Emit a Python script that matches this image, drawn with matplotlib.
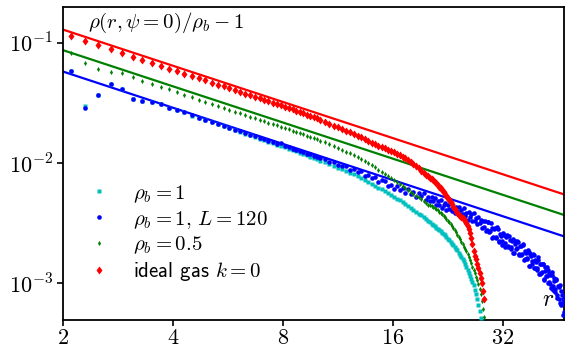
import matplotlib
matplotlib.use("Agg")
import matplotlib.pyplot as plt
from matplotlib.ticker import FixedLocator, FixedFormatter, NullLocator

# ---------------- data ----------------
r_a = [2.1, 2.3, 2.5, 2.7, 2.9, 3.1, 3.3, 3.5, 3.7, 3.9, 4.1, 4.3, 4.5, 4.7, 4.9,
       5.1, 5.3, 5.5, 5.7, 5.9, 6.1, 6.3, 6.5, 6.7, 6.9, 7.1, 7.3, 7.5, 7.7, 7.9,
       8.1, 8.3, 8.5, 8.7, 8.9, 9.1, 9.3, 9.5, 9.7, 9.9, 10.1]
r_b = [10.4, 10.7, 11.0, 11.3, 11.6, 11.9, 12.2, 12.5, 12.8, 13.1, 13.4, 13.7,
       14.0, 14.3, 14.6, 14.9, 15.2, 15.5, 15.8, 16.1, 16.4, 16.7, 17.0, 17.3,
       17.6, 17.9, 18.2, 18.5, 18.8, 19.1, 19.4, 19.7, 20.0]
r_c = [20.2, 20.4, 20.6, 20.8, 21.0, 21.2, 21.4, 21.6, 21.8, 22.0, 22.2, 22.4,
       22.6, 22.8, 23.0, 23.2, 23.4, 23.6, 23.8, 24.0, 24.2, 24.4, 24.6, 24.8,
       25.0, 25.2, 25.4, 25.6, 25.8, 26.0, 26.2, 26.4, 26.6, 26.8, 27.0, 27.2,
       27.4, 27.6, 27.8, 28.0, 28.2, 28.4]
r_tail = [28.6, 28.9, 29.2, 29.5, 29.8, 30.1, 30.4, 30.7, 31.0, 31.3, 31.6, 31.9,
          32.2, 32.5, 32.8, 33.1, 33.4, 33.7, 34.0, 34.3, 34.6, 34.9, 35.2, 35.5,
          35.8, 36.1, 36.4, 36.7, 37.0, 37.3, 37.6, 37.9, 38.2, 38.5, 38.8, 39.1,
          39.4, 39.7, 40.0, 40.3, 40.6, 40.9, 41.2, 41.5, 41.8, 42.1, 42.4, 42.7,
          43.0, 43.3, 43.6, 43.9, 44.2, 44.5, 44.8, 45.1, 45.4, 45.7, 46.0, 46.3,
          46.6, 46.9]
r_tail2 = [28.75, 29.05, 29.35, 29.65, 29.95, 30.25, 30.55, 30.85, 31.15, 31.45,
           31.75, 32.05, 32.35, 32.65, 32.95, 33.25, 33.55, 33.85, 34.15, 34.45,
           34.75, 35.05, 35.35, 35.65, 35.95, 36.25, 36.55, 36.85, 37.15, 37.45,
           37.75, 38.05, 38.35, 38.65, 38.95, 39.25, 39.55, 39.85, 40.15, 40.45,
           40.75, 41.05, 41.35, 41.65, 41.95, 42.25, 42.55, 42.85, 43.15, 43.45,
           43.75, 44.05, 44.35, 44.65, 44.95, 45.25, 45.55, 45.85, 46.15, 46.45,
           46.75]
r_pts = r_a + r_b + r_c

rho1 = [0.0588, 0.0298, 0.0369, 0.0455, 0.0411, 0.0341, 0.0330, 0.0324, 0.0310, 0.0289,
        0.0277, 0.0266, 0.0248, 0.0237, 0.0228, 0.0219, 0.0210, 0.0203, 0.0196, 0.0189,
        0.0182, 0.0176, 0.0171, 0.0165, 0.0160, 0.0155, 0.0151, 0.0146, 0.0142, 0.0138,
        0.0135, 0.0131, 0.0128, 0.0125, 0.0122, 0.0119, 0.0116, 0.0113, 0.0110, 0.0108,
        0.0105,
        0.01016, 0.00983, 0.00950, 0.00919, 0.00889, 0.00861, 0.00833, 0.00807, 0.00779,
        0.00750, 0.00723, 0.00697, 0.00672, 0.00649, 0.00626, 0.00604, 0.00583, 0.00563,
        0.00543, 0.00524, 0.00507, 0.00491, 0.00476, 0.00458, 0.00442, 0.00426, 0.00410,
        0.00395, 0.00380, 0.00367, 0.00354, 0.00341, 0.00329,
        0.00321, 0.00314, 0.00306, 0.00299, 0.00291, 0.00284, 0.00277, 0.00271, 0.00264,
        0.00257, 0.00250, 0.00242, 0.00235, 0.00228, 0.00221, 0.00214, 0.00207, 0.00201,
        0.00194, 0.00188, 0.00180, 0.00173, 0.00166, 0.00159, 0.00152, 0.00145, 0.00137,
        0.00130, 0.00123, 0.00115, 0.00109, 0.00103, 0.000964, 0.000887, 0.000813,
        0.000739, 0.000666, 0.000586, 0.000519]

rho1_L120 = [0.0588, 0.0290, 0.0369, 0.0455, 0.0411, 0.0341, 0.0330, 0.0324, 0.0310, 0.0289,
             0.0277, 0.0266, 0.0249, 0.0238, 0.0229, 0.0220, 0.0211, 0.0204, 0.0196, 0.0190,
             0.0184, 0.0178, 0.0172, 0.0167, 0.0162, 0.0158, 0.0153, 0.0149, 0.0145, 0.0146,
             0.0140, 0.0135, 0.0132, 0.0129, 0.0126, 0.0123, 0.0120, 0.0118, 0.0115, 0.0113,
             0.0110,
             0.01077, 0.01024, 0.01024, 0.00956, 0.00951, 0.00946, 0.00884, 0.00887, 0.00846,
             0.00856, 0.00784, 0.00801, 0.00755, 0.00764, 0.00693, 0.00717, 0.00712, 0.00649,
             0.00661, 0.00606, 0.00650, 0.00601, 0.00619, 0.00567, 0.00610, 0.00554, 0.00573,
             0.00521, 0.00569, 0.00533, 0.00562, 0.00496, 0.00523,
             0.00486, 0.00523, 0.00481, 0.00517, 0.00452, 0.00483, 0.00447, 0.00491, 0.00421,
             0.00450, 0.00464, 0.00404, 0.00448, 0.00419, 0.00462, 0.00400, 0.00421, 0.00381,
             0.00435, 0.00403, 0.00434, 0.00374, 0.00406, 0.00374, 0.00425, 0.00362, 0.00385,
             0.00339, 0.00394, 0.00357, 0.00378, 0.00330, 0.00383, 0.00332, 0.00349, 0.00310,
             0.00359, 0.00317, 0.00335, 0.00286, 0.00331, 0.00292]
rho1_L120_tail = [0.00327, 0.00275, 0.00324, 0.00274, 0.00289, 0.00242, 0.00288, 0.00243,
                  0.00285, 0.00225, 0.00248, 0.00208, 0.00253, 0.00218, 0.00252, 0.00199,
                  0.00229, 0.00199, 0.00232, 0.00179, 0.00211, 0.00195, 0.00221, 0.00175,
                  0.00203, 0.00177, 0.00209, 0.00159, 0.00179, 0.00159, 0.00183, 0.00139,
                  0.00169, 0.00152, 0.00172, 0.00134, 0.00151, 0.00133, 0.00156, 0.00120,
                  0.00144, 0.00124, 0.00146, 0.00109, 0.00127, 0.00115, 0.00130, 0.00103,
                  0.00118, 0.000918, 0.00118, 0.000949, 0.00104, 0.000845, 0.00107, 0.000806,
                  0.000929, 0.000692, 0.000870, 0.000689, 0.000741, 0.000572]
rho1_L120_tail2 = [0.00270, 0.00322, 0.00269, 0.00315, 0.00239, 0.00285, 0.00238, 0.00293,
                   0.00220, 0.00255, 0.00227, 0.00262, 0.00200, 0.00243, 0.00206, 0.00249,
                   0.00193, 0.00224, 0.00179, 0.00226, 0.00194, 0.00225, 0.00172, 0.00205,
                   0.00171, 0.00212, 0.00157, 0.00184, 0.00163, 0.00189, 0.00139, 0.00175,
                   0.00144, 0.00176, 0.00133, 0.00156, 0.00130, 0.00164, 0.00119, 0.00146,
                   0.00123, 0.00144, 0.00107, 0.00136, 0.00116, 0.00137, 0.00101, 0.00121,
                   0.000990, 0.00125, 0.000884, 0.00111, 0.000897, 0.00108, 0.000757,
                   0.000957, 0.000741, 0.000970, 0.000662, 0.000801, 0.000549]

rho05 = [0.0821, 0.0686, 0.0607, 0.0577, 0.0559, 0.0523, 0.0482, 0.0453, 0.0433, 0.0414,
         0.0393, 0.0368, 0.0352, 0.0337, 0.0323, 0.0310, 0.0299, 0.0288, 0.0278, 0.0268,
         0.0259, 0.0251, 0.0243, 0.0236, 0.0229, 0.0223, 0.0217, 0.0211, 0.0206, 0.0200,
         0.0196, 0.0191, 0.0186, 0.0182, 0.01779, 0.01731, 0.01689, 0.01651, 0.01613,
         0.01577, 0.01540,
         0.01489, 0.01438, 0.01384, 0.01337, 0.01292, 0.01247, 0.01204, 0.01162, 0.01123,
         0.01085, 0.01041, 0.00999, 0.00959, 0.00921, 0.00884, 0.00849, 0.00815, 0.00783,
         0.00752, 0.00722, 0.00695, 0.00669, 0.00644, 0.00621, 0.00598, 0.00577, 0.00556,
         0.00537, 0.00518, 0.00501, 0.00484, 0.00468, 0.00452,
         0.00444, 0.00437, 0.00429, 0.00422, 0.00414, 0.00405, 0.00395, 0.00385, 0.00374,
         0.00364, 0.00353, 0.00342, 0.00331, 0.00321, 0.00310, 0.00299, 0.00287, 0.00276,
         0.00265, 0.00254, 0.00243, 0.00232, 0.00222, 0.00212, 0.00202, 0.00193, 0.00184,
         0.00175, 0.00166, 0.00157, 0.00147, 0.00136, 0.00128, 0.00121, 0.00113, 0.00106,
         0.000978, 0.000895, 0.000813, 0.000715, 0.000617, 0.000521]

ideal_gas = [0.1137, 0.1038, 0.0955, 0.0884, 0.0823, 0.0770, 0.0723, 0.0682, 0.0645, 0.0612,
             0.0582, 0.0555, 0.0530, 0.0508, 0.0487, 0.0468, 0.0450, 0.0434, 0.0419, 0.0405,
             0.0391, 0.0379, 0.0367, 0.0356, 0.0346, 0.0336, 0.0327, 0.0318, 0.0310, 0.0302,
             0.02944, 0.02869, 0.02798, 0.02730, 0.02665, 0.02595, 0.02530, 0.02469, 0.02410,
             0.02353, 0.02299,
             0.02215, 0.02134, 0.02052, 0.01984, 0.01920, 0.01858, 0.01804, 0.01746, 0.01689,
             0.01633, 0.01579, 0.01525, 0.01474, 0.01436, 0.01398, 0.01363, 0.01329, 0.01297,
             0.01266, 0.01231, 0.01197, 0.01163, 0.01131, 0.01096, 0.01058, 0.01026, 0.00985,
             0.00943, 0.00903, 0.00865, 0.00834, 0.00803, 0.00774,
             0.00755, 0.00736, 0.00718, 0.00700, 0.00682, 0.00660, 0.00638, 0.00616, 0.00595,
             0.00575, 0.00553, 0.00532, 0.00511, 0.00491, 0.00471, 0.00453, 0.00435, 0.00416,
             0.00399, 0.00382, 0.00373, 0.00365, 0.00357, 0.00348, 0.00341, 0.00330, 0.00319,
             0.00302, 0.00283, 0.00263, 0.00237, 0.00212, 0.00187, 0.00170, 0.00158, 0.00145,
             0.00133, 0.00121, 0.00111, 0.00101, 0.000869, 0.000745]

# power-law fits  A / r  (red, green, blue)
fit_amplitude = [0.258, 0.174, 0.1155]
fit_colors = ["r", "g", "b"]
fit_range = [2.0, 47.0]

x_ticks = [2, 4, 8, 16, 32]
x_ticklabels = ["$2$", "$4$", "$8$", "$16$", "$32$"]
y_ticks = [1e-3, 1e-2, 1e-1]
y_ticklabels = ["$10^{-3}$", "$10^{-2}$", "$10^{-1}$"]

labels = [r"$\rho_b = 1$", r"$\rho_b = 1,\, L = 120$", r"$\rho_b = 0.5$", r"ideal gas $k = 0$"]

# ---------------- plot ----------------
plt.rcParams["mathtext.fontset"] = "cm"
plt.rcParams["font.family"] = ["cmss10", "DejaVu Sans"]

fig = plt.figure(figsize=(5.82, 3.55), dpi=100)
ax = fig.add_axes([63 / 582, 1 - 319.5 / 355, 501 / 582, 312.8 / 355])

for amp, col in zip(fit_amplitude, fit_colors):
    ax.plot(fit_range, [amp / fit_range[0], amp / fit_range[1]], color=col, lw=1.6, zorder=2)

ax.plot(r_pts[:len(rho1)], rho1, ls="none", marker="s", ms=3.2, mec="none", color="c",
        label=labels[0], zorder=3)
ax.plot(r_pts + r_tail + r_tail2, rho1_L120 + rho1_L120_tail + rho1_L120_tail2, ls="none",
        marker="o", ms=3.3, mec="none", color="b", label=labels[1], zorder=4)
ax.plot(r_pts[:len(rho05)], rho05, ls="none", marker="d", ms=2.6, mec="none", color="g",
        label=labels[2], zorder=5)
ax.plot(r_pts[:len(ideal_gas)], ideal_gas, ls="none", marker="d", ms=4.5, mec="none", color="r",
        label=labels[3], zorder=6)

ax.set_xscale("log")
ax.set_yscale("log")
ax.set_xlim(fit_range[0], fit_range[1])
ax.set_ylim(5e-4, 0.2)

ax.xaxis.set_major_locator(FixedLocator(x_ticks))
ax.xaxis.set_major_formatter(FixedFormatter(x_ticklabels))
ax.xaxis.set_minor_locator(NullLocator())
ax.yaxis.set_major_locator(FixedLocator(y_ticks))
ax.yaxis.set_major_formatter(FixedFormatter(y_ticklabels))
ax.yaxis.set_minor_locator(NullLocator())
ax.tick_params(axis="both", which="major", direction="out", length=4, width=1.2,
               labelsize=16, pad=3)
for sp in ax.spines.values():
    sp.set_linewidth(1.3)

ax.text(0.05, 0.948, r"$\rho(r,\psi=0)/\rho_b-1$", transform=ax.transAxes,
        fontsize=15, ha="left", va="center")
ax.text(0.968, 0.062, r"$r$", transform=ax.transAxes, fontsize=17, ha="center", va="center")

ax.legend(loc="upper left", bbox_to_anchor=(0.0133, 0.463), frameon=False, fontsize=15,
          handlelength=2.0, handletextpad=0.62, labelspacing=0.2, borderaxespad=0.0)

fig.savefig("out.png", dpi=100)
